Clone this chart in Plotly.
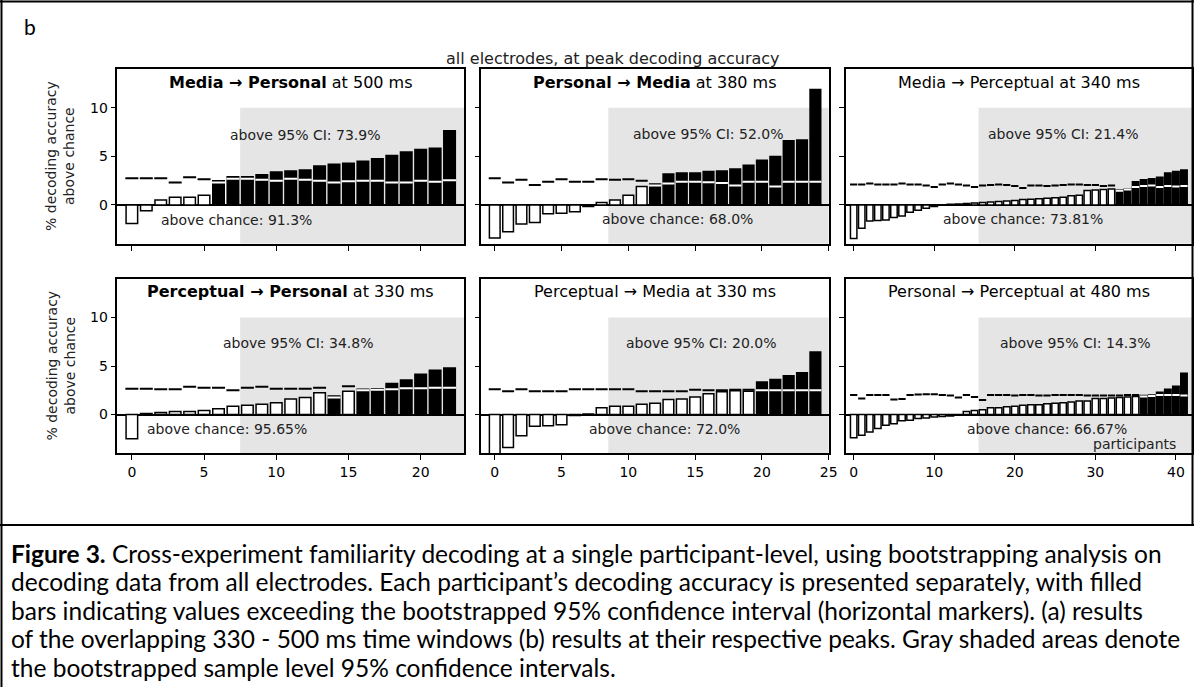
import plotly.graph_objects as go

# ---------------- data ----------------
n_participants = [23, 25, 42]
panel_titles = [
    "<b>Media → Personal</b> at 500 ms",
    "<b>Personal → Media</b> at 380 ms",
    "Media → Perceptual at 340 ms",
    "<b>Perceptual → Personal</b> at 330 ms",
    "Perceptual → Media at 330 ms",
    "Personal → Perceptual at 480 ms",
]
ci_texts = ["above 95% CI: 73.9%", "above 95% CI: 52.0%", "above 95% CI: 21.4%",
            "above 95% CI: 34.8%", "above 95% CI: 20.0%", "above 95% CI: 14.3%"]
chance_texts = ["above chance: 91.3%", "above chance: 68.0%", "above chance: 73.81%",
                "above chance: 95.65%", "above chance: 72.0%", "above chance: 66.67%"]
gray_start = [7.5, 8.5, 15.5]
gray_top = 10
x_ticks = [[0, 5, 10, 15, 20], [0, 5, 10, 15, 20, 25], [0, 10, 20, 30, 40]]
y_ticks = [0, 5, 10]

vals1 = [-1.9, -0.6, 0.5, 0.8, 0.8, 1.0, 2.5, 2.9, 2.9, 3.1, 3.4, 3.5, 3.6, 4.0, 4.2, 4.3,
         4.5, 4.75, 5.1, 5.45, 5.7, 5.85, 7.65]
ci1 = [2.75, 2.75, 2.75, 2.3, 2.85, 2.65, 2.3, 2.7, 2.7, 2.6, 2.5, 2.7, 2.6, 2.5, 2.3, 2.45,
       2.5, 2.5, 2.3, 2.3, 2.5, 2.4, 2.55]

vals2 = [-3.4, -2.75, -1.95, -1.8, -0.9, -0.85, -0.7, -0.15, 0.25, 0.5, 1.0, 1.9, 2.15, 3.2,
         3.3, 3.3, 3.45, 3.5, 3.7, 4.1, 4.6, 5.0, 6.6, 6.7, 11.9]
ci2 = [2.75, 2.3, 2.6, 2.05, 2.4, 2.65, 2.4, 2.4, 2.65, 2.6, 2.65, 2.5, 2.0, 2.2, 2.4, 2.4,
       2.35, 2.25, 2.0, 2.4, 2.4, 1.9, 2.4, 2.4, 2.4]

vals3 = [-3.45, -2.4, -1.65, -1.6, -1.55, -1.3, -1.15, -0.75, -0.55, -0.35, -0.15,
         0.03, 0.07, 0.1, 0.15, 0.2, 0.25, 0.3, 0.35, 0.4, 0.45, 0.55, 0.6, 0.65, 0.7,
         0.75, 0.8, 0.95, 1.0, 1.5, 1.55, 1.6, 1.65,
         1.55, 1.65, 2.4, 2.6, 2.7, 2.85, 3.3, 3.45, 3.6]
ci3 = [2.1, 2.1, 2.2, 2.1, 2.1, 2.1, 2.2, 2.1, 2.1, 2.0, 1.85, 2.1, 2.2, 2.1, 2.0, 1.85,
       2.0, 2.05, 2.1, 2.05, 1.95, 1.75, 2.0, 2.0, 1.95, 2.0, 2.05, 2.1, 2.1, 2.05, 2.05,
       1.95, 2.0, 1.45, 1.6, 1.85, 1.95, 2.0, 1.85, 1.95, 1.9, 1.95]

vals4 = [-2.5, 0.1, 0.2, 0.3, 0.3, 0.4, 0.6, 0.85, 0.95, 1.05, 1.2, 1.6, 1.75, 2.25, 1.9,
         2.4, 2.6, 2.65, 3.2, 3.55, 4.15, 4.55, 4.8]
ci4 = [2.65, 2.65, 2.6, 2.6, 2.85, 2.75, 2.75, 2.5, 2.75, 2.85, 2.65, 2.65, 2.65, 2.75,
       1.75, 2.9, 2.5, 2.55, 2.6, 2.7, 2.7, 2.75, 2.75]

vals5 = [-4.4, -3.4, -2.2, -1.2, -1.15, -1.05, -0.1, 0.05, 0.7, 0.85, 0.85, 1.05, 1.15,
         1.55, 1.6, 1.8, 2.15, 2.35, 2.45, 2.4, 3.35, 3.6, 4.0, 4.3, 6.45]
ci5 = [2.6, 2.4, 2.6, 2.4, 2.4, 2.4, 2.6, 2.6, 2.6, 2.6, 2.6, 2.4, 2.4, 2.4, 2.4, 2.55,
       2.5, 2.5, 2.55, 2.55, 2.5, 2.5, 2.5, 2.5, 2.5]

vals6 = [-2.4, -2.15, -1.8, -1.45, -1.1, -0.95, -0.65, -0.6, -0.4, -0.35, -0.25, -0.2,
         -0.15, -0.05, 0.3, 0.4, 0.5, 0.7, 0.7, 0.8, 0.85, 0.95, 1.0, 1.0, 1.1, 1.15, 1.2,
         1.3, 1.4, 1.4, 1.65, 1.65, 1.7, 1.75, 1.8, 1.85, 1.95, 2.0, 2.3, 2.6, 2.9, 4.25]
ci6 = [2.0, 1.65, 2.0, 2.0, 2.0, 1.55, 1.6, 2.0, 2.05, 2.1, 2.1, 2.0, 1.95, 1.75, 2.0, 1.8,
       1.5, 2.0, 2.0, 2.0, 1.95, 2.0, 2.0, 1.95, 1.95, 2.0, 2.0, 2.0, 2.0, 1.95, 1.95, 1.95,
       1.95, 1.95, 2.0, 2.0, 1.85, 1.9, 2.0, 2.0, 2.0, 1.95]

caption_lines = [
    "<b>Figure 3.</b> Cross-experiment familiarity decoding at a single participant-level, using bootstrapping analysis on",
    "decoding data from all electrodes. Each participant’s decoding accuracy is presented separately, with filled",
    "bars indicating values exceeding the bootstrapped 95% confidence interval (horizontal markers). (a) results",
    "of the overlapping 330 - 500 ms time windows (b) results at their respective peaks. Gray shaded areas denote",
    "the bootstrapped sample level 95% confidence intervals.",
]

# ---------------- layout geometry (pixels) ----------------
W, H = 1203, 687
COL_X = [(118.3, 467.5), (485.0, 835.0), (852.0, 1201.0)]
ROW_Y = [(69.0, 243.8), (278.7, 453.3)]
FONT = "DejaVu Sans"

def px(x):
    return x / W

def py(y):
    return 1 - y / H

all_vals = [vals1, vals2, vals3, vals4, vals5, vals6]
all_ci = [ci1, ci2, ci3, ci4, ci5, ci6]

fig = go.Figure()
layout = dict(
    width=W, height=H, margin=dict(l=0, r=0, t=0, b=0),
    paper_bgcolor="white", plot_bgcolor="white", showlegend=False,
    font=dict(family=FONT, size=14, color="black"),
)
shapes = []
annotations = []

ci_text_pos = [(307.5, 135), (714.2, 134), (1071.2, 134), (300.8, 343.3), (707.2, 343.3), (1083.8, 343.3)]
ch_text_pos = [(238.7, 220), (682.5, 219.3), (1030.5, 219.3), (228.7, 429), (669.5, 429), (1055, 429.3)]
title_y = [82.5, 291.5]

for k in range(6):
    r, c = divmod(k, 3)
    n = n_participants[c]
    vals = all_vals[k]
    ci = all_ci[k]
    sfx = "" if k == 0 else str(k + 1)
    xa, ya = "x" + sfx, "y" + sfx
    idx = list(range(n))
    filled = [v > t for v, t in zip(vals, ci)]
    colors = ["black" if f else "white" for f in filled]

    fig.add_trace(go.Bar(x=idx, y=vals, width=0.8, xaxis=xa, yaxis=ya,
                         marker=dict(color=colors, line=dict(color="black", width=1.5)),
                         hoverinfo="skip"))
    for want, col in ((False, "black"), (True, "white")):
        xs, ys = [], []
        for i in idx:
            if filled[i] == want:
                xs += [i - 0.45, i + 0.45, None]
                ys += [ci[i], ci[i], None]
        fig.add_trace(go.Scatter(x=xs, y=ys, mode="lines", xaxis=xa, yaxis=ya,
                                 line=dict(color=col, width=2), hoverinfo="skip"))

    x0, x1 = COL_X[c]
    y0, y1 = ROW_Y[r]
    layout["xaxis" + sfx] = dict(
        domain=[px(x0), px(x1)], anchor=ya, range=[-1, n],
        tickvals=x_ticks[c], ticks="outside", ticklen=5, tickwidth=1.2, tickcolor="black",
        showticklabels=(r == 1), showgrid=False, zeroline=False,
        showline=True, mirror=True, linecolor="black", linewidth=1.5,
        tickfont=dict(family=FONT, size=14, color="black"),
    )
    layout["yaxis" + sfx] = dict(
        domain=[py(y1), py(y0)], anchor=xa, range=[-4, 14],
        tickvals=y_ticks, ticks="outside", ticklen=5, tickwidth=1.2, tickcolor="black",
        showticklabels=(c == 0), showgrid=False,
        zeroline=True, zerolinecolor="black", zerolinewidth=2,
        showline=True, mirror=True, linecolor="black", linewidth=1.5,
        tickfont=dict(family=FONT, size=14, color="black"),
    )
    shapes.append(dict(type="rect", xref=xa, yref=ya, x0=gray_start[c], x1=n,
                       y0=-4, y1=gray_top, fillcolor="rgb(229,229,229)",
                       line=dict(width=0), layer="below"))
    annotations.append(dict(text=panel_titles[k], x=px((x0 + x1) / 2), y=py(title_y[r]),
                            xref="paper", yref="paper", showarrow=False,
                            xanchor="center", yanchor="middle",
                            font=dict(family=FONT, size=16, color="black")))
    tx, ty = ci_text_pos[k]
    annotations.append(dict(text=ci_texts[k], x=px(tx), y=py(ty), xref="paper", yref="paper",
                            showarrow=False, xanchor="center", yanchor="middle",
                            font=dict(family=FONT, size=14, color="#222")))
    tx, ty = ch_text_pos[k]
    annotations.append(dict(text=chance_texts[k], x=px(tx), y=py(ty), xref="paper", yref="paper",
                            showarrow=False, xanchor="center", yanchor="middle",
                            font=dict(family=FONT, size=14, color="#222")))

# y-axis titles
for r in range(2):
    y0, y1 = ROW_Y[r]
    annotations.append(dict(text="% decoding accuracy<br>above chance", x=px(61), y=py((y0 + y1) / 2),
                            xref="paper", yref="paper", showarrow=False, textangle=-90,
                            xanchor="center", yanchor="middle",
                            font=dict(family=FONT, size=14, color="#222")))

annotations.append(dict(text="participants", x=px(1187), y=py(443.5), xref="paper", yref="paper",
                        showarrow=False, xanchor="right", yanchor="middle",
                        font=dict(family=FONT, size=14, color="#222")))
annotations.append(dict(text="all electrodes, at peak decoding accuracy", x=px(618), y=py(58),
                        xref="paper", yref="paper", showarrow=False, xanchor="center",
                        yanchor="middle", font=dict(family=FONT, size=16, color="#222")))
annotations.append(dict(text="b", x=px(22), y=py(26), xref="paper", yref="paper",
                        showarrow=False, xanchor="left", yanchor="middle",
                        font=dict(family="Lato", size=21, color="black")))

cap_y = [553, 581.5, 610, 638.5, 667]
for line, yy in zip(caption_lines, cap_y):
    annotations.append(dict(text=line, x=px(9), y=py(yy), xref="paper", yref="paper",
                            showarrow=False, xanchor="left", yanchor="middle",
                            font=dict(family="Lato", size=24.5, color="black")))

# frame lines
for s in [
    dict(x0=0, x1=W, y0=1.5, y1=1.5),
    dict(x0=1.5, x1=1.5, y0=0, y1=H),
    dict(x0=W - 1.5, x1=W - 1.5, y0=0, y1=525),
    dict(x0=0, x1=W, y0=525, y1=525),
]:
    shapes.append(dict(type="line", xref="paper", yref="paper",
                       x0=px(s["x0"]), x1=px(s["x1"]), y0=py(s["y0"]), y1=py(s["y1"]),
                       line=dict(color="black", width=2), layer="above"))

layout["shapes"] = shapes
layout["annotations"] = annotations
fig.update_layout(**layout)
fig.write_html("out.html", config={"displayModeBar": False},
               post_script="document.body.style.margin='0px';")
